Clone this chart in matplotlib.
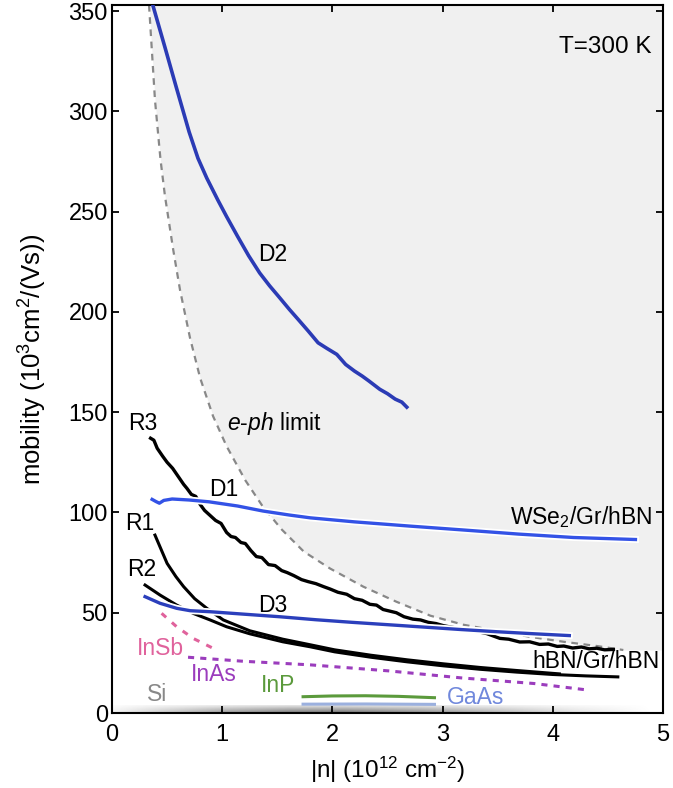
import numpy as np
import matplotlib
matplotlib.use("Agg")
import matplotlib.pyplot as plt
import matplotlib.patheffects as pe

plt.rcParams['font.family'] = ['Liberation Sans', 'DejaVu Sans']
plt.rcParams['mathtext.fontset'] = 'custom'
plt.rcParams['mathtext.rm'] = 'Liberation Sans'
plt.rcParams['mathtext.it'] = 'Liberation Sans:italic'

# ---------------- data ----------------
eph_x = [0.336, 0.39, 0.44, 0.48, 0.556, 0.617, 0.708, 0.80, 0.917, 1.04, 1.21, 1.37, 1.54, 1.74, 1.98,
         2.28, 2.58, 2.89, 3.19, 3.49, 3.79, 4.10, 4.40, 4.64]
eph_y = [353, 305.6, 276, 258, 230.8, 211, 187, 167, 148, 133, 116, 102.8, 91.5, 80.5, 72,
         63, 55.5, 48.5, 44, 41, 38, 35.5, 33.4, 31.4]
shade_right_x = 5.0
shade_right_y = 31.4

d2_x = [0.37, 0.48, 0.58, 0.70, 0.78, 0.86, 0.96, 1.04, 1.14, 1.24, 1.34, 1.43, 1.51, 1.61,
        1.69, 1.78, 1.87, 1.95, 2.04, 2.12, 2.20, 2.27, 2.33, 2.43, 2.50, 2.57, 2.63, 2.675]
d2_y = [353, 332, 312.6, 289.7, 276.6, 266.7, 255.8, 247.5, 237.6, 228.0, 219.4, 213.0, 207.8, 201.2,
        196.2, 190.5, 184.6, 181.8, 178.8, 173.8, 170.5, 168.0, 165.6, 161.4, 159.2, 156.5, 155.0, 152.5]

d1_x = [0.364, 0.40, 0.43, 0.47, 0.546, 0.70, 0.88, 1.14, 1.37, 1.61, 1.80, 2.20, 2.70, 3.20, 3.69, 4.19, 4.75]
d1_y = [106.5, 105.4, 104.6, 106.0, 106.7, 106.2, 105.3, 103.2, 100.7, 98.7, 97.3, 95.3, 93.2, 91.2, 89.2, 87.5, 86.5]

d3_x = [0.30, 0.436, 0.587, 0.71, 0.89, 1.19, 1.52, 1.85, 2.18, 2.51, 2.84, 3.17, 3.50, 3.83, 4.15]
d3_y = [58, 54.7, 52.2, 51, 50.5, 49.3, 48, 46.5, 45.2, 44, 42.8, 41.6, 40.5, 39.5, 38.6]

r3_x = [0.35, 0.38, 0.41, 0.46, 0.50, 0.55, 0.60, 0.65, 0.68, 0.72, 0.76, 0.80, 0.84, 0.88, 0.94,
        0.99, 1.04, 1.08, 1.12, 1.17, 1.21, 1.26, 1.31, 1.36, 1.42, 1.48, 1.54, 1.59, 1.65, 1.72,
        1.78, 1.85, 1.92, 1.98, 2.05, 2.13, 2.20, 2.27, 2.34, 2.40, 2.46, 2.52, 2.58, 2.65, 2.73,
        2.80, 2.87, 2.94, 3.01, 3.10, 3.20, 3.30, 3.40, 3.52, 3.60, 3.70, 3.79, 3.88, 3.96, 4.04,
        4.10, 4.18, 4.26, 4.33, 4.40, 4.47, 4.55]
r3_y = [137, 136, 132, 128, 125, 122, 118, 114, 112, 109, 108, 104, 101, 99, 96,
        94.5, 90, 88, 87.5, 85, 84.5, 81, 78, 77.5, 74, 73.5, 71, 70, 68.5, 66.5,
        65.5, 64.5, 63, 61.8, 60.2, 59.2, 57.0, 56.2, 54.2, 53.8, 51.6, 50.8, 50.0, 48.0, 46.8,
        46.4, 45.2, 44.6, 43.5, 42.6, 41.8, 40.8, 39.6, 37.2, 36.8, 35.4, 35.5, 34.2, 34.4, 33.2,
        33.4, 32.4, 32.9, 32.0, 32.3, 31.5, 31.7]

r1_x = [0.39, 0.45, 0.50, 0.58, 0.65, 0.75, 0.86, 1.01, 1.25, 1.55, 1.80, 2.02, 2.35, 2.68, 3.01, 3.34, 3.67, 4.06]
r1_y = [88.7, 81, 74.6, 68, 63, 57, 52.2, 46.4, 41, 36.8, 34, 31.5, 28.8, 26.5, 24.5, 22.7, 21.2, 19.5]

r2_x = [0.30, 0.436, 0.587, 0.74, 0.89, 1.04, 1.25, 1.55, 1.80, 2.02, 2.35, 2.68, 3.01, 3.34, 3.67, 4.0, 4.30, 4.59]
r2_y = [63.8, 58.8, 53.8, 49.6, 46.4, 43, 39.5, 35.5, 33, 30.5, 27.8, 25.5, 23.5, 21.8, 20.4, 19.2, 18.5, 18]

insb_x = [0.45, 0.587, 0.74, 0.92]
insb_y = [49.7, 43, 37.1, 32.2]

inas_x = [0.69, 1.19, 1.80, 2.51, 3.17, 3.83, 4.31]
inas_y = [27.8, 25.8, 24.0, 21.0, 17.5, 14.7, 11.5]

inp_x = [1.72, 2.0, 2.3, 2.6, 2.94]
inp_y = [8.1, 8.5, 8.6, 8.3, 7.6]

gaas_x = [1.72, 2.3, 2.94]
gaas_y = [4.4, 4.5, 4.3]

# Si band shading stops (x position, darkness)
si_stop_x = [0.0, 0.5, 1.0, 1.6, 2.1, 2.8, 3.5, 4.2, 4.9]
si_stop_a = [0.08, 0.35, 0.6, 0.8, 0.85, 0.7, 0.45, 0.18, 0.0]

x_ticks = [0, 1, 2, 3, 4, 5]
y_ticks = [0, 50, 100, 150, 200, 250, 300, 350]

# ---------------- figure ----------------
fig = plt.figure(figsize=(6.73, 7.88), dpi=100)
ax = fig.add_axes([112/673, 75/788, 551/673, 708/788])
ax.set_xlim(0, 5)
ax.set_ylim(0, 353)

# shaded e-ph region
fx = eph_x + [shade_right_x]
fy = eph_y + [shade_right_y]
ax.fill_between(fx, fy, 400, color='#f0f0f0', zorder=0, linewidth=0)

# Si band gradient
gx = np.linspace(0, 5, 300)
ga = np.interp(gx, si_stop_x, si_stop_a)
gy = np.linspace(1, 0.2, 12)[:, None]
img = np.zeros((12, 300, 4))
img[..., 0] = 0.35
img[..., 1] = 0.35
img[..., 2] = 0.35
img[..., 3] = ga[None, :] * gy
ax.imshow(img, extent=[0, 5, 0, 3.6], aspect='auto', origin='lower', zorder=1, interpolation='bilinear')

ax.plot(eph_x, eph_y, color='#888888', lw=1.6, ls=(0, (3, 2.5)), zorder=2)

ax.plot(inp_x, inp_y, color='#5b9a3c', lw=2.2, zorder=3, solid_capstyle='butt')
ax.plot(gaas_x, gaas_y, color='#9bb0de', lw=2.2, zorder=3, solid_capstyle='butt')
ax.plot(insb_x, insb_y, color='#e0629c', lw=2.2, ls=(0, (2, 2.5)), zorder=3)
ax.plot(inas_x, inas_y, color='#9b3dbd', lw=2.2, ls=(0, (2, 2)), zorder=3)

ax.plot(r2_x, r2_y, color='black', lw=2.2, zorder=4)
ax.plot(r1_x, r1_y, color='black', lw=2.2, zorder=4)
ax.plot(r3_x, r3_y, color='black', lw=2.4, zorder=4)

white = [pe.withStroke(linewidth=5, foreground='white')]
ax.plot(d3_x, d3_y, color='#2b3fbc', lw=2.4, zorder=5, path_effects=white)
ax.plot(d1_x, d1_y, color='#3352e6', lw=2.4, zorder=5, path_effects=white)
ax.plot(d2_x, d2_y, color='#2b3bb5', lw=2.6, zorder=5)

fs = 16.5
ax.text(4.90, 332, 'T=300 K', fontsize=17.5, ha='right', va='center')
ax.text(1.46, 228.5, 'D2', fontsize=fs, ha='center', va='center')
ax.text(0.275, 144.5, 'R3', fontsize=fs, ha='center', va='center')
ax.text(1.47, 144.5, r'$\it{e}$-$\it{ph}$ limit', fontsize=fs, ha='center', va='center')
ax.text(1.01, 111.2, 'D1', fontsize=fs, ha='center', va='center')
ax.text(4.90, 97.8, r'WSe$_2$/Gr/hBN', fontsize=fs, ha='right', va='center')
ax.text(0.25, 94.7, 'R1', fontsize=fs, ha='center', va='center')
ax.text(0.27, 71.3, 'R2', fontsize=fs, ha='center', va='center')
ax.text(1.46, 53.8, 'D3', fontsize=fs, ha='center', va='center')
ax.text(0.44, 32.4, 'InSb', fontsize=fs, ha='center', va='center', color='#e0629c')
ax.text(0.92, 19.2, 'InAs', fontsize=fs, ha='center', va='center', color='#9b3dbd')
ax.text(1.51, 13.8, 'InP', fontsize=fs, ha='center', va='center', color='#5b9a3c')
ax.text(0.405, 9.0, 'Si', fontsize=fs, ha='center', va='center', color='#888888')
ax.text(3.30, 7.5, 'GaAs', fontsize=fs, ha='center', va='center', color='#7088dc')
ax.text(4.97, 25.6, 'hBN/Gr/hBN', fontsize=fs, ha='right', va='center')

ax.set_xticks(x_ticks)
ax.set_yticks(y_ticks)
ax.tick_params(direction='in', top=True, right=True, length=5, width=1.3, labelsize=17)
ax.tick_params(axis='x', pad=8)
ax.tick_params(axis='y', pad=3)
for s in ax.spines.values():
    s.set_linewidth(1.5)
ax.set_xlabel(r'|n| (10$^{12}$ cm$^{-2}$)', fontsize=17.5, labelpad=6)
ax.set_ylabel(r'mobility (10$^3$cm$^2$/(Vs))', fontsize=18.5, labelpad=14)

fig.savefig('out.png', dpi=100)
